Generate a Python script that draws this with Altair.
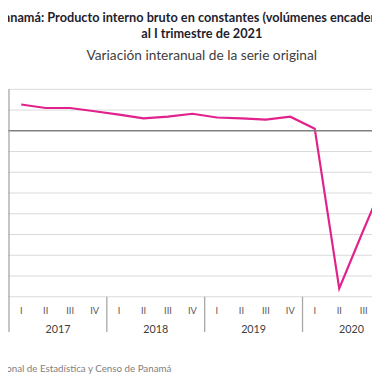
import altair as alt
import pandas as pd

trimestres = ["I", "II", "III", "IV", "I", "II", "III", "IV", "I", "II", "III", "IV", "I", "II", "III", "IV"]
anios = ["2017"] * 4 + ["2018"] * 4 + ["2019"] * 4 + ["2020"] * 4
valores = [6.35, 5.5, 5.5, 4.7, 3.9, 3.0, 3.4, 4.1, 3.2, 3.0, 2.7, 3.4, 0.5, -38.0, -23.8, -10.0]
etiquetas_anio = ["2017", "2018", "2019", "2020"]
lineas_guia = [10, 5, -5, -10, -15, -20, -25, -30, -35, -40]

titulo = ["Panamá: Producto interno bruto en constantes (volúmenes encadenados)",
          "al I trimestre de 2021"]
subtitulo = "Variación interanual de la serie original"
fuente = "Fuente: Instituto Nacional de Estadística y Censo de Panamá"

df = pd.DataFrame({"idx": list(range(len(valores))), "trimestre": trimestres,
                   "anio": anios, "valor": valores})
ydf = pd.DataFrame({"anio": etiquetas_anio,
                    "centro": [4 * i + 1.5 for i in range(len(etiquetas_anio))],
                    "inicio": [4 * i - 0.5 for i in range(len(etiquetas_anio))]})
gdf = pd.DataFrame({"g": lineas_guia})

W, H = 372, 212
STEP = 25.0
x0 = -0.54
xscale = alt.Scale(domain=[x0, x0 + W / STEP], nice=False, zero=False)
yscale = alt.Scale(domain=[-40, 10], nice=False, zero=False)
FONT = "Lato"

grid = alt.Chart(gdf).mark_rule(color="#d9d9d9", strokeWidth=1).encode(
    y=alt.Y("g:Q", scale=yscale, axis=None)
)

line = alt.Chart(df).mark_line(color="#E2228C", strokeWidth=2.2, clip=True).encode(
    x=alt.X("idx:Q", scale=xscale, axis=None),
    y=alt.Y("valor:Q", scale=yscale, axis=None),
)

zero = alt.Chart(pd.DataFrame({"y": [0]})).mark_rule(color="#808080", strokeWidth=1.5).encode(
    y=alt.Y("y:Q", scale=yscale)
)

left_axis = alt.Chart(ydf.head(1)).mark_rule(color="#a6a6a6", strokeWidth=1.3).encode(
    x=alt.X("inicio:Q", scale=xscale), y=alt.value(0), y2=alt.value(H + 36)
)
seps = alt.Chart(ydf.iloc[1:]).mark_rule(color="#a6a6a6", strokeWidth=1.3).encode(
    x=alt.X("inicio:Q", scale=xscale), y=alt.value(H), y2=alt.value(H + 36)
)

qtext = alt.Chart(df).mark_text(font=FONT, fontSize=9.5, color="#595959", baseline="middle").encode(
    x=alt.X("idx:Q", scale=xscale), y=alt.value(H + 15), text="trimestre:N"
)
ytext = alt.Chart(ydf).mark_text(font=FONT, fontSize=11, color="#404040", baseline="middle").encode(
    x=alt.X("centro:Q", scale=xscale), y=alt.value(H + 34), text="anio:N"
)
foot = alt.Chart(pd.DataFrame({"t": [fuente]})).mark_text(
    font=FONT, fontSize=10, color="#7f7f7f", align="right", baseline="middle"
).encode(x=alt.value(167), y=alt.value(286), text="t:N")

chart = alt.layer(grid, line, zero, left_axis, seps, qtext, ytext, foot).properties(
    width=W, height=H,
    title=alt.TitleParams(text=titulo, subtitle=subtitulo, font=FONT, fontSize=13,
                          fontWeight="bold", color="#1e1e2e", subtitleFont=FONT,
                          subtitleFontSize=14, subtitleColor="#404040", lineHeight=16,
                          subtitlePadding=9, offset=26, dx=12, anchor="middle"),
    padding={"left": 0, "right": 0, "top": 79, "bottom": 372 - 79 - H},
    autosize=alt.AutoSizeParams(type="none"),
).configure_view(stroke=None)

chart.save("out.html", embed_options={"renderer": "svg", "actions": False})
